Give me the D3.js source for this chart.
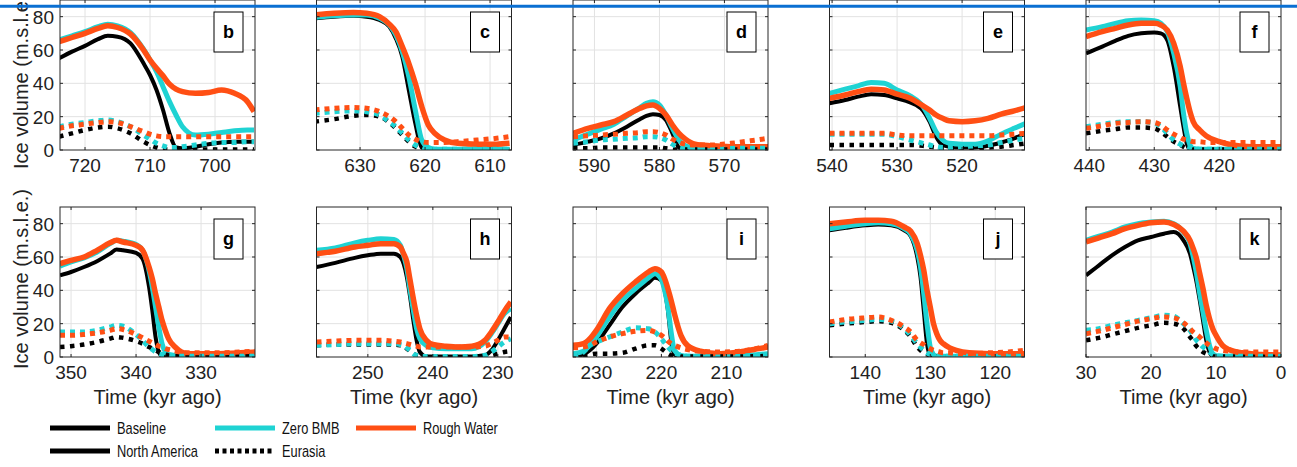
<!DOCTYPE html>
<html><head><meta charset="utf-8">
<script src="https://cdn.jsdelivr.net/npm/d3@7"></script>
<style>
body{margin:0;background:#fff}
svg{display:block}
text{font-family:"Liberation Sans",Arial,Helvetica,sans-serif;fill:#222}
</style>
</head><body>
<svg id="chart" width="1297" height="467"></svg>
<script>
// ---------------- DATA ----------------
const panelIds = ["b","c","d","e","f","g","h","i","j","k"];
const xDomains = [[723.85,693.85],[636.7,606.7],[593.3,563.3],[540.4,510.4],[440.5,410.5],
                  [351.7,321.7],[257.9,227.9],[233.6,203.6],[145.5,115.5],[30,0]];
const yTicks = [0,20,40,60,80];
const xTickStep = 10;
const seriesNames = ["Baseline","Zero BMB","Rough Water"];
const regionNames = ["North America","Eurasia"];
const seriesColors = ["#000000","#1fd3d3","#ff4f14"];

// panel b
const tB = [724,722,720,718,716.5,715,713,711,710,709,708,707,706,705,703,701,699,697,695,694];
const bBaseNA  = [55,59,62.5,66.5,68.5,68,64,52,45,36,24,10,1.5,1,2,3.5,4.5,5,5,5];
const bZeroNA  = [66,68.5,71,74,75.5,74.5,70.5,60.5,54,47,38,29,21,14,9,9.5,10.5,11.5,12,12];
const bRoughNA = [65,67.5,70,73,74.5,73.5,69.5,60,54,49,44.5,39.5,36.5,35,34,34.5,36,34,29,23];
const bBaseEU  = [8,10,12,13.5,14,13,10,5,3,1.5,0.5,0.3,0.3,0.3,0.3,0.3,0.3,0.3,0.3,0.3];
const bZeroEU  = [14,15.5,16.5,17.5,18,17,14,9,6.5,4,2.5,1.5,1.5,2,3,4,4.5,4.5,5,5];
const bRoughEU = [13,14.5,15.5,16.5,17,16.5,14,11,9.5,8.5,8,8,8,8,8,8,8,8,8,8];
// panel c
const tC = [637,634,631,629,627,625.5,624.5,623.5,622.5,621.5,620.5,619.5,618.5,617,615,612,609,607];
const cBaseNA  = [79,80,80.5,80,78,74,67,56,36,16,1.5,0.3,0.3,0.3,0.3,0.3,0.3,0.3];
const cZeroNA  = [79.5,80.5,81,81,79,75,69,59,44,24,6,1.5,0.5,0.5,0.5,0.5,0.5,0.5];
const cRoughNA = [81,82,82.5,82,80,75.5,71,62,52,40,26,15,10,6,4,3.5,3.5,4];
const cBaseEU  = [17,18.5,20.5,21,20,16.5,13,9,5,2,0.5,0.3,0.3,0.3,0.3,0.3,0.3,0.3];
const cZeroEU  = [22,23,23.5,23,21,17,14,10,6,3,1.5,0.5,0.5,0.5,0.5,0.5,0.5,0.5];
const cRoughEU = [24,25,25.5,25,23,20,17,13,9,6.5,5,4.5,4.5,4.5,5,6,7,8];
// panel d
const tD = [593.3,591,589,587,585,583,582,581,580,579,578,577,576,574.5,572,569,566,563.3];
const dBaseNA  = [3,5,7,10,14,18.5,20.5,21.5,21,18,10,1.5,0.3,0.3,0.3,0.3,0.3,0.3];
const dZeroNA  = [6,9.5,12.5,15.5,20.5,25.5,28,29,27,21,13,6,2.5,1,1,1,1,1];
const dRoughNA = [10,13,15,17,21,25,26.5,27,25,21,15,10,6.5,3.5,2.5,2,2,2];
const dBaseEU  = [1,1,1.5,1.5,1.5,1.5,1.5,1.5,1.5,1,0.5,0.3,0.3,0.3,0.3,0.3,0.3,0.3];
const dZeroEU  = [4,5,6,6.5,7,7.5,8,8,7.5,6,3.5,1.5,1,1,1,1,1,1];
const dRoughEU = [8,8.5,9,9.5,10,10.5,11,11,10.5,9,6.5,4.5,3.5,3,3,4,5.5,7];
// panel e
const tE = [540.4,538,536,534,532,530,528,526,525,524,523,522,520,518,516,514,512,510.2];
const eBaseNA  = [28,30,32,33.5,33,31,28.5,23.5,17,8,3,2,1.5,1.5,2.5,4.5,7,10];
const eZeroNA  = [34,36.5,38.5,40.5,40,36,32.5,26,19,11,6,4,3.5,3.5,5.5,9.5,13,16];
const eRoughNA = [31,33,35,36.5,36,33.5,31,26.5,24,21,19,17.5,17,17.5,19,21.5,23.5,25.5];
const eBaseEU  = [3,3,3,3,3,3,3,2.5,2,1.5,1,1,1,1,1.5,2,3,4];
const eZeroEU  = [9.5,9.5,9.5,9.5,9.5,8,6,4,3,2,1.5,1.5,2,2.5,3,4.5,6,7];
const eRoughEU = [10,10,10,10,10,9,8.5,8.5,8.5,8.5,8.5,8.5,8.5,8.5,8.5,9,9.5,10];
// panel f
const tF = [440.5,438,436,434,432,430,429,428,427,426,425.5,425,424.5,424,423,422,420,418,415,410.5];
const fBaseNA  = [58,62,65.5,68.5,70,70.5,70,66,50,26,14,4,0.5,0.3,0.3,0.3,0.3,0.3,0.3,0.3];
const fZeroNA  = [72,74,76,77.5,78,77.5,76,71,58,38,22,10,3,1,0.5,0.5,0.5,0.5,0.5,0.5];
const fRoughNA = [68,71,73,75,76,76,75,72,64,50,40,31,23,17,12,8.5,5,3,2,2];
const fBaseEU  = [10,11.5,12.5,13.5,13.5,13,11,8,5,3,2,1,0.5,0.3,0.3,0.3,0.3,0.3,0.3,0.3];
const fZeroEU  = [14,15.5,16.5,17,17,16,14,10,6,3.5,2.5,2,1.5,1,0.5,0.5,0.5,0.5,0.5,0.5];
const fRoughEU = [13,14.5,16,16.5,17,16.5,15,12,9.5,7.5,6.5,6,5.5,5,5,4.5,4.5,4.5,4.5,4.5];
// panel g
const tG = [351.7,350,348,346,344,343,342,340,339,338,337.5,337,336.5,336,335.5,335,334,332,328,324,321.7];
const gBaseNA  = [49,51,54,57.5,62,64.5,64,62.5,59,42,28,12,3,0.5,0.3,0.3,0.3,0.3,0.5,1,1];
const gZeroNA  = [54.5,57,59.5,63,68,70,69.5,67.5,64,52,42,30,18,8,3,1.5,1,0.5,0.5,0.5,0.5];
const gRoughNA = [56,58,60,64,68.5,70,69,67,64,54,47,38,30,22,16,11,6,2,2,2.5,3];
const gBaseEU  = [6,6.5,7.5,9,11,12,11.5,9.5,8,6,5,4,3,2,1.5,1,0.5,0.5,0.5,1,1];
const gZeroEU  = [15,15,15,16,18,19,18.5,13.5,10,6,4.5,3,2,1.5,1,1,0.5,0.5,0.5,0.5,0.5];
const gRoughEU = [13,13,13.5,14.5,16,17,16.5,13.5,11.5,9.5,8.5,7.5,6.5,6,5,4.5,3.5,2.5,2.5,3,3.5];
// panel h
const tH = [257.9,255,252,250,248,246,245,244.5,244,243.5,243,242.5,242,241,240,238,236,234,232,231,230,229,228];
const hBaseNA  = [54,56.5,59.5,61,62,62,60,56,48,36,22,10,3,0.3,0.3,0.3,0.3,0.3,1,4,10,17,24];
const hZeroNA  = [64,65.5,68.5,70,71,70.5,67,61,53,40,28,17,11,7,5.5,5,5,5,9,14,20,26,29];
const hRoughNA = [62,63.5,66,67,68,68,66,62,57,46,35,25,17,10,7.5,6.5,6,6.5,10,15,21,27.5,33];
const hBaseEU  = [7,7.5,7.5,7.5,7.5,7.5,7,6.5,5,3.5,2,1,0.5,0.3,0.3,0.3,0.3,0.3,0.5,1,2,3,3.5];
const hZeroEU  = [7,7.5,8,8,8,8,7.5,7,5.5,4,2,1,0.5,0.3,0.3,0.3,0.3,0.3,1,3,6,9,11];
const hRoughEU = [9,9.5,10,10,10,9.5,9,8.5,8,7.5,7,6.5,6,6,6,6,6,6,6.5,8,10,12,12];
// panel i
const tI = [233.6,232,231,230,228,226,224,222,221,220,219.5,219,218.5,218,217,216,214,211,208,205,203.6];
const iBaseNA  = [0.3,1.5,4,8,19,30,38,44.5,47.5,46,40,28,10,1.5,0.3,0.3,0.3,0.3,0.3,0.3,0.3];
const iZeroNA  = [2,3.5,7,12,24,34,41,47.5,50,46.5,40,30,15,4,1,0.5,0.5,0.5,1,1.5,2];
const iRoughNA = [7,8,11,16,29,38,45,51,53,51,47,41,34,26,13,7,3.5,2,3,5,6];
const iBaseEU  = [0.3,1,1.5,2,2,2.5,5,7,7,5,3.5,2,1,0.5,0.3,0.3,0.3,0.3,0.3,0.5,1];
const iZeroEU  = [0.5,3,7,9,12,15,17.5,17,15,11,8.5,6,4,2.5,1,0.5,0.5,0.5,0.5,1,1];
const iRoughEU = [5.5,6,7,9,12,14,15.5,16,15,13,11.5,9.5,8,7,5.5,4.5,3.5,3,3.5,5.5,7];
// panel j
const tJ = [145.5,143,140,138,136,134,133,132,131.5,131,130.5,130,129.5,129,128.5,128,127,126,124,121,118,115.5];
const jBaseNA  = [76,77.5,79,79.5,79,76,72.5,60,48,28,8,1,0.3,0.3,0.3,0.3,0.3,0.3,0.3,0.3,0.3,0.3];
const jZeroNA  = [77,78.5,80,80.5,80,77,73.5,64,54,38,20,6,1.5,0.5,0.5,0.5,0.5,0.5,0.5,0.5,0.5,0.5];
const jRoughNA = [80,81,82,82,81.5,78,75.5,68,61,52,40,30,20,14,10,8,5.5,4,2.5,2,2,2];
const jBaseEU  = [19,20,21,21.5,20.5,16,12,6,4,2.5,1.5,1,0.5,0.3,0.3,0.3,0.3,0.3,0.3,0.3,0.3,0.3];
const jZeroEU  = [20,21,22,22.5,21.5,17,13,8,6,4,2.5,1.5,1,0.5,0.5,0.5,0.5,0.5,0.5,0.5,0.5,0.5];
const jRoughEU = [21,22.5,23.5,24,22,18,15,10,8.5,7.5,6,5,4,3.5,3,2.5,2.5,2,2,2.5,3,4];
// panel k
const tK = [30,28,26,24,22,20,18,16.5,15,14,13.5,13,12.5,12,11.5,11,10.5,10,9,8,6,3,0];
const kBaseNA  = [49,55,61,66,70,72,74,75,70,62,54,45,34,22,10,3,0.5,0.3,0.3,0.3,0.3,0.3,0.3];
const kZeroNA  = [70,72.5,75,78,80,81,81.5,80,75,68,60,50,38,27,16,7,2,0.8,0.5,0.5,0.5,0.5,0.5];
const kRoughNA = [69,71.5,74,77,79,80.5,81,79.5,75.5,70,65,59,50,41,31,23,17,13,7,4.5,2.5,1.5,1.2];
const kBaseEU  = [10,11.5,13.5,15.5,17.5,19,20.5,20,17,12,9.5,6.5,4.5,3,2,1,0.5,0.3,0.3,0.3,0.3,0.3,0.3];
const kZeroEU  = [16,17,19,20.5,22,23.5,25,24.5,20,16,13,10,8,6,4.5,3,1.5,0.8,0.5,0.5,0.5,0.5,0.5];
const kRoughEU = [14,15.5,17.5,19.5,21.5,23,24,23.5,20.5,17,15,13.5,12,10,8.5,7,6,5,4,3.5,3,3,3];

const panelData = [
  [tB,[bBaseNA,bZeroNA,bRoughNA],[bBaseEU,bZeroEU,bRoughEU]],
  [tC,[cBaseNA,cZeroNA,cRoughNA],[cBaseEU,cZeroEU,cRoughEU]],
  [tD,[dBaseNA,dZeroNA,dRoughNA],[dBaseEU,dZeroEU,dRoughEU]],
  [tE,[eBaseNA,eZeroNA,eRoughNA],[eBaseEU,eZeroEU,eRoughEU]],
  [tF,[fBaseNA,fZeroNA,fRoughNA],[fBaseEU,fZeroEU,fRoughEU]],
  [tG,[gBaseNA,gZeroNA,gRoughNA],[gBaseEU,gZeroEU,gRoughEU]],
  [tH,[hBaseNA,hZeroNA,hRoughNA],[hBaseEU,hZeroEU,hRoughEU]],
  [tI,[iBaseNA,iZeroNA,iRoughNA],[iBaseEU,iZeroEU,iRoughEU]],
  [tJ,[jBaseNA,jZeroNA,jRoughNA],[jBaseEU,jZeroEU,jRoughEU]],
  [tK,[kBaseNA,kZeroNA,kRoughNA],[kBaseEU,kZeroEU,kRoughEU]]
];

// ---------------- LAYOUT ----------------
const svg = d3.select("#chart");
const W = 195, H = 150;
const colLeft = [60, 316.5, 573, 829.5, 1086];
const rowTop = [0, 207];
const solidW = [4, 5, 5.5];
const axisColor = "#262626";

panelIds.forEach((id, idx) => {
  const col = idx % 5, row = Math.floor(idx / 5);
  const left = colLeft[col], top = rowTop[row];
  const x = d3.scaleLinear().domain(xDomains[idx]).range([left, left + W]);
  const y = d3.scaleLinear().domain([0, 90]).range([top + H, top]);
  const g = svg.append("g");
  const lo = Math.min(...xDomains[idx]), hi = Math.max(...xDomains[idx]);
  const xt = d3.range(Math.ceil(lo / xTickStep) * xTickStep, hi + 1e-6, xTickStep);

  // grid
  g.selectAll(".gx").data(xt.filter(v => v > lo + 0.01 && v < hi - 0.01)).join("line")
    .attr("x1", d => x(d)).attr("x2", d => x(d)).attr("y1", top).attr("y2", top + H)
    .attr("stroke", "#e2e2e2").attr("stroke-width", 1);
  g.selectAll(".gy").data(yTicks.filter(v => v > 0)).join("line")
    .attr("x1", left).attr("x2", left + W).attr("y1", d => y(d)).attr("y2", d => y(d))
    .attr("stroke", "#e2e2e2").attr("stroke-width", 1);

  // clip
  const cid = "clip-" + id;
  svg.append("clipPath").attr("id", cid).append("rect")
    .attr("x", left).attr("y", top).attr("width", W).attr("height", H);
  const lg = g.append("g").attr("clip-path", `url(#${cid})`);
  const [t, na, eu] = panelData[idx];
  const line = d3.line().x(d => x(d[0])).y(d => y(d[1])).curve(d3.curveMonotoneX);
  na.forEach((vals, s) => {
    lg.append("path").datum(t.map((tt, k) => [tt, vals[k]]))
      .attr("d", line).attr("fill", "none").attr("stroke", seriesColors[s])
      .attr("stroke-width", solidW[s]).attr("stroke-linejoin", "round");
  });
  eu.forEach((vals, s) => {
    lg.append("path").datum(t.map((tt, k) => [tt, vals[k]]))
      .attr("d", line).attr("fill", "none").attr("stroke", seriesColors[s])
      .attr("stroke-width", s === 0 ? 4.5 : 5).attr("stroke-dasharray", s === 0 ? "4.5,5.5" : "5,5");
  });

  // box + ticks
  g.append("rect").attr("x", left).attr("y", top).attr("width", W).attr("height", H)
    .attr("fill", "none").attr("stroke", axisColor).attr("stroke-width", 1);
  xt.forEach(v => {
    g.append("line").attr("x1", x(v)).attr("x2", x(v)).attr("y1", top + H).attr("y2", top + H - 3).attr("stroke", axisColor);
    g.append("line").attr("x1", x(v)).attr("x2", x(v)).attr("y1", top).attr("y2", top + 3).attr("stroke", axisColor);
    g.append("text").attr("x", x(v)).attr("y", top + H + 22).attr("text-anchor", "middle")
      .style("font-size", "19px").text(v);
  });
  yTicks.forEach(v => {
    g.append("line").attr("x1", left).attr("x2", left + 3).attr("y1", y(v)).attr("y2", y(v)).attr("stroke", axisColor);
    g.append("line").attr("x1", left + W).attr("x2", left + W - 3).attr("y1", y(v)).attr("y2", y(v)).attr("stroke", axisColor);
    if (col === 0) {
      g.append("text").attr("x", left - 6).attr("y", y(v)).attr("dy", "0.36em")
        .attr("text-anchor", "end").style("font-size", "19px").text(v);
    }
  });
  if (col === 0) {
    g.append("text").attr("transform", `translate(28,${top + H / 2 + (row === 0 ? 4 : -3)}) rotate(-90)`)
      .attr("text-anchor", "middle").style("font-size", "20px").text("Ice volume (m.s.l.e.)");
  }
  if (row === 1) {
    g.append("text").attr("x", left + W / 2).attr("y", top + H + 47).attr("text-anchor", "middle")
      .style("font-size", "20px").text("Time (kyr ago)");
  }
  // panel letter
  g.append("rect").attr("x", left + W - 41).attr("y", top + 12).attr("width", 29).attr("height", 40)
    .attr("fill", "#fff").attr("stroke", "#000").attr("stroke-width", 1);
  g.append("text").attr("x", left + W - 26.5).attr("y", top + 32).attr("dy", "0.35em")
    .attr("text-anchor", "middle").style("font-size", "18px").style("font-weight", "bold").style("fill", "#000")
    .text(id);
});

// ---------------- LEGEND ----------------
const legendItems = [
  {label: seriesNames[0], color: seriesColors[0], dash: null, x: 50, y: 428},
  {label: seriesNames[1], color: seriesColors[1], dash: null, x: 215, y: 428},
  {label: seriesNames[2], color: seriesColors[2], dash: null, x: 356, y: 428},
  {label: regionNames[0], color: "#000", dash: null, x: 50, y: 451},
  {label: regionNames[1], color: "#000", dash: "4,3.5", x: 215, y: 451}
];
const leg = svg.append("g");
legendItems.forEach(it => {
  leg.append("line").attr("x1", it.x).attr("x2", it.x + 60).attr("y1", it.y).attr("y2", it.y)
    .attr("stroke", it.color).attr("stroke-width", 5).attr("stroke-dasharray", it.dash);
  leg.append("text").attr("transform", `translate(${it.x + 67},${it.y + 6}) scale(0.8,1)`)
    .style("font-size", "16px").style("fill", "#111").text(it.label);
});

// top rule
svg.append("line").attr("x1", 0).attr("x2", 1297).attr("y1", 6.3).attr("y2", 6.3)
  .attr("stroke", "#0a6fd2").attr("stroke-width", 3);
</script>
</body></html>
